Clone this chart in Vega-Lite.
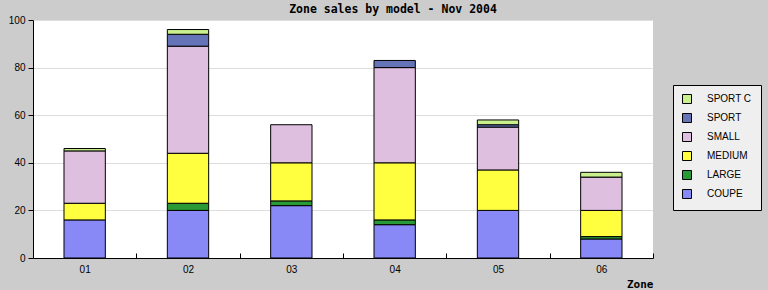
{
  "$schema": "https://vega.github.io/schema/vega-lite/v6.json",
  "autosize": "none",
  "width": 620,
  "height": 238,
  "padding": {"left": 33, "top": 20, "right": 115, "bottom": 32},
  "background": "#cccccc",
  "title": {
    "text": "Zone sales by model - Nov 2004",
    "font": "DejaVu Sans Mono",
    "fontSize": 11.5,
    "fontWeight": "bold",
    "color": "#000000",
    "anchor": "middle",
    "dx": 50,
    "offset": 0
  },
  "config": {
    "view": {"fill": "#ffffff", "stroke": null},
    "axis": {
      "labelFont": "Liberation Sans",
      "labelFontSize": 10,
      "labelColor": "#000000",
      "domainColor": "#000000",
      "tickColor": "#000000",
      "gridColor": "#dddddd",
      "labelOverlap": false
    }
  },
  "data": {
    "values": [
      {"zone": "01", "model": "COUPE", "sales": 16},
      {"zone": "01", "model": "MEDIUM", "sales": 7},
      {"zone": "01", "model": "SMALL", "sales": 22},
      {"zone": "01", "model": "SPORT C", "sales": 1},
      {"zone": "02", "model": "COUPE", "sales": 20},
      {"zone": "02", "model": "LARGE", "sales": 3},
      {"zone": "02", "model": "MEDIUM", "sales": 21},
      {"zone": "02", "model": "SMALL", "sales": 45},
      {"zone": "02", "model": "SPORT", "sales": 5},
      {"zone": "02", "model": "SPORT C", "sales": 2},
      {"zone": "03", "model": "COUPE", "sales": 22},
      {"zone": "03", "model": "LARGE", "sales": 2},
      {"zone": "03", "model": "MEDIUM", "sales": 16},
      {"zone": "03", "model": "SMALL", "sales": 16},
      {"zone": "04", "model": "COUPE", "sales": 14},
      {"zone": "04", "model": "LARGE", "sales": 2},
      {"zone": "04", "model": "MEDIUM", "sales": 24},
      {"zone": "04", "model": "SMALL", "sales": 40},
      {"zone": "04", "model": "SPORT", "sales": 3},
      {"zone": "05", "model": "COUPE", "sales": 20},
      {"zone": "05", "model": "MEDIUM", "sales": 17},
      {"zone": "05", "model": "SMALL", "sales": 18},
      {"zone": "05", "model": "SPORT", "sales": 1},
      {"zone": "05", "model": "SPORT C", "sales": 2},
      {"zone": "06", "model": "COUPE", "sales": 8},
      {"zone": "06", "model": "LARGE", "sales": 1},
      {"zone": "06", "model": "MEDIUM", "sales": 11},
      {"zone": "06", "model": "SMALL", "sales": 14},
      {"zone": "06", "model": "SPORT C", "sales": 2}
    ]
  },
  "mark": {"type": "bar", "stroke": "#000000", "strokeWidth": 1, "opacity": 1},
  "encoding": {
    "x": {
      "field": "zone",
      "type": "nominal",
      "scale": {"paddingInner": 0.6, "paddingOuter": 0.3},
      "axis": {
        "title": "Zone",
        "titleFont": "DejaVu Sans Mono",
        "titleFontSize": 11,
        "titleFontWeight": "bold",
        "titleColor": "#000000",
        "titleAnchor": "end",
        "titleAlign": "right",
        "titleX": 620,
        "titleY": 26,
        "titleBaseline": "middle",
        "labelAngle": 0,
        "ticks": true,
        "tickBand": "center",
        "tickOffset": 51.667,
        "labelOffset": -51.667,
        "tickSize": -5,
        "tickWidth": 1,
        "tickColor": "#000000",
        "labelPadding": 11,
        "grid": false,
        "zindex": 1
      }
    },
    "y": {
      "aggregate": "sum",
      "field": "sales",
      "type": "quantitative",
      "scale": {"domain": [0, 100]},
      "axis": {
        "title": null,
        "values": [0, 20, 40, 60, 80, 100],
        "tickSize": 5,
        "labelPadding": 3,
        "grid": true
      }
    },
    "color": {
      "field": "model",
      "type": "nominal",
      "scale": {
        "domain": ["SPORT C", "SPORT", "SMALL", "MEDIUM", "LARGE", "COUPE"],
        "range": ["#c9f08d", "#6573b7", "#dfbfdf", "#ffff40", "#2a9a36", "#8888f7"]
      },
      "legend": {
        "title": null,
        "orient": "none",
        "legendX": 640,
        "legendY": 65,
        "padding": 9,
        "fillColor": "#efefef",
        "strokeColor": "#000000",
        "symbolType": "square",
        "symbolSize": 81,
        "symbolStrokeColor": "#000000",
        "symbolStrokeWidth": 1,
        "symbolOpacity": 1,
        "labelFont": "Liberation Sans",
        "labelFontSize": 10,
        "labelColor": "#000000",
        "labelOffset": 15,
        "rowPadding": 5
      }
    },
    "order": {"field": "model", "sort": "ascending"}
  }
}
